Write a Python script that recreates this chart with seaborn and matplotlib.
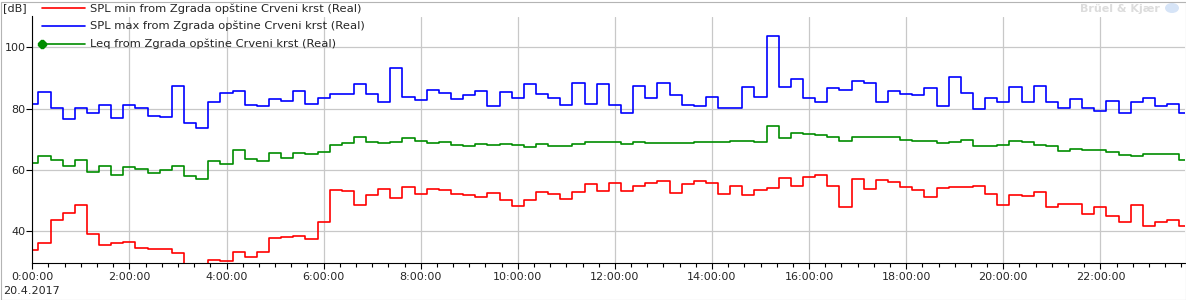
import numpy as np
import pandas as pd
import seaborn as sns
import matplotlib
matplotlib.use("Agg")
import matplotlib.pyplot as plt
from matplotlib.ticker import MultipleLocator, FuncFormatter
from matplotlib.lines import Line2D
from matplotlib.patches import Rectangle, Ellipse

# 15-minute intervals, 20.4.2017
hours = np.arange(96) * 0.25

spl_max = [81.6, 85.4, 80.3, 76.5, 80.3, 78.4, 81.3, 77.0, 81.3, 80.3,
           77.7, 77.4, 87.5, 75.4, 73.8, 82.0, 85.2, 85.7, 81.0, 80.7,
           83.1, 82.4, 85.7, 81.6, 83.6, 84.9, 84.9, 87.9, 84.6, 82.0,
           93.1, 83.9, 82.7, 86.0, 85.2, 83.0, 84.3, 85.7, 80.7, 85.4,
           83.3, 87.9, 84.6, 83.3, 81.3, 88.5, 81.6, 87.9, 81.3, 78.7,
           87.5, 83.6, 88.5, 84.3, 81.3, 80.7, 83.9, 80.3, 80.3, 87.2,
           83.9, 103.7, 86.9, 89.8, 83.3, 82.0, 86.6, 86.2, 89.0, 88.2,
           82.3, 85.7, 84.9, 84.3, 86.6, 80.7, 90.2, 85.2, 80.0, 83.3,
           82.0, 87.2, 82.3, 87.5, 82.0, 80.3, 83.0, 80.3, 79.3, 82.6,
           78.7, 82.0, 83.3, 80.7, 81.6, 78.7]

spl_min = [33.8, 36.0, 43.5, 45.9, 48.4, 38.9, 35.3, 36.0, 36.3, 34.6,
           34.1, 34.0, 32.7, 28.0, 28.0, 30.6, 30.1, 33.0, 31.5, 33.0,
           37.7, 38.0, 38.4, 37.4, 43.0, 53.3, 53.0, 48.4, 51.7, 53.7,
           50.7, 54.3, 52.0, 53.7, 53.3, 52.0, 51.7, 51.0, 52.3, 50.1,
           48.1, 50.1, 52.7, 52.0, 50.4, 52.7, 55.3, 53.0, 55.6, 53.0,
           54.6, 55.6, 56.3, 52.3, 55.3, 56.3, 55.6, 52.0, 54.6, 51.7,
           53.3, 54.0, 57.3, 54.6, 57.6, 58.3, 54.6, 47.8, 56.9, 53.7,
           56.6, 56.0, 54.3, 53.3, 51.0, 54.0, 54.3, 54.3, 54.6, 52.0,
           48.4, 51.7, 51.4, 52.7, 47.8, 48.7, 48.7, 45.5, 47.8, 44.8,
           42.8, 48.4, 41.5, 42.8, 43.5, 41.5]

leq = [62.3, 64.6, 63.3, 61.3, 63.3, 59.3, 61.3, 58.4, 61.0, 60.3,
       58.8, 59.8, 61.1, 58.1, 57.0, 63.0, 62.0, 66.6, 63.6, 63.0,
       65.6, 63.9, 65.6, 65.2, 65.9, 68.2, 68.9, 70.6, 69.2, 68.9,
       69.2, 70.3, 69.5, 68.9, 69.2, 68.2, 67.9, 68.5, 68.2, 68.5,
       68.2, 67.5, 68.5, 67.9, 67.9, 68.5, 69.2, 69.2, 69.2, 68.5,
       69.2, 68.9, 68.9, 68.9, 68.9, 69.2, 69.2, 69.2, 69.5, 69.5,
       69.2, 74.4, 70.3, 72.1, 71.8, 71.5, 70.6, 69.5, 70.8, 70.8,
       70.8, 70.6, 69.8, 69.5, 69.5, 68.9, 69.2, 69.8, 67.9, 67.9,
       68.2, 69.5, 69.2, 68.2, 67.9, 66.2, 66.9, 66.6, 66.6, 65.9,
       64.9, 64.6, 65.2, 65.2, 65.2, 63.3]

labels = ["SPL min from Zgrada opštine Crveni krst (Real)",
          "SPL max from Zgrada opštine Crveni krst (Real)",
          "Leq from Zgrada opštine Crveni krst (Real)"]
colors = ["#ff0000", "#0000ff", "#008c00"]
date_label = "20.4.2017"

sns.set_theme(style="white")
plt.rcParams["font.family"] = ["DejaVu Sans"]

W, H = 1186, 300
fig = plt.figure(figsize=(W / 100, H / 100), dpi=100)
fig.patch.set_facecolor("white")

x0, x1 = 32.3, 1185.0
ytop, ybot = 16.5, 262.7
ax = fig.add_axes([x0 / W, 1 - ybot / H, (x1 - x0) / W, (ybot - ytop) / H])
ax.set_facecolor("white")

df = pd.DataFrame({"t": hours, "min": spl_min, "max": spl_max, "leq": leq})
for col, c in zip(["min", "max", "leq"], colors):
    sns.lineplot(data=df, x="t", y=col, ax=ax, color=c, linewidth=1.2,
                 drawstyle="steps-mid", estimator=None, legend=False)

ax.set_xlim(0, (x1 - x0) / 48.55)
ax.set_ylim(29.65, 110.07)
ax.set_xlabel("")
ax.set_ylabel("")

ax.xaxis.set_major_locator(MultipleLocator(2))
ax.xaxis.set_minor_locator(MultipleLocator(1 / 3))
ax.xaxis.set_major_formatter(FuncFormatter(lambda v, p: f"{int(round(v))}:00:00"))
ax.yaxis.set_major_locator(MultipleLocator(20))
ax.grid(True, which="major", color="#c8c8c8", linewidth=0.9)
ax.set_axisbelow(True)

for s in ["top", "right"]:
    ax.spines[s].set_visible(False)
for s in ["left", "bottom"]:
    ax.spines[s].set_color("black")
    ax.spines[s].set_linewidth(0.8)

ax.tick_params(axis="x", which="major", direction="out", length=4, width=0.8,
               color="black", labelsize=8, pad=3, bottom=True)
ax.tick_params(axis="x", which="minor", direction="out", length=3, width=0.8,
               color="black", bottom=True)
ax.tick_params(axis="y", which="major", direction="out", length=4, width=0.8,
               color="black", labelsize=8, pad=1, left=True)

# date below first tick label
fig.text(3 / W, 1 - 290.5 / H, date_label, fontsize=8, va="center", ha="left")
# unit label
fig.text(3 / W, 1 - 8.5 / H, "[dB]", fontsize=8, va="center", ha="left")

# legend drawn at top-left
rows_y = [8.3, 25.5, 43.5]
for lab, c, yy, mk in zip(labels, colors, rows_y, [False, False, True]):
    yf = 1 - yy / H
    fig.add_artist(Line2D([42 / W, 85 / W], [yf, yf], color=c, linewidth=1.2,
                          transform=fig.transFigure))
    if mk:
        fig.add_artist(Line2D([42 / W], [yf], color=c, marker="8", markersize=5.5,
                              transform=fig.transFigure))
    fig.text(90 / W, yf, lab, fontsize=8.25, va="center", ha="left")

# brand mark
fig.text(1080 / W, 1 - 8.5 / H, "Brüel & Kjær", fontsize=8, fontweight="bold",
         color="#dcdcdc", va="center", ha="left")
fig.add_artist(Ellipse((1172 / W, 1 - 8 / H), 14 / W, 10 / H, facecolor="#d6e4f7",
                       edgecolor="none", transform=fig.transFigure))

# outer frame
fig.add_artist(Rectangle((0.5 / W, 0.5 / H), (W - 1) / W, (H - 2.5) / H, fill=False,
                         edgecolor="#b4b4b4", linewidth=0.8, transform=fig.transFigure))

fig.savefig("out.png", dpi=100)
